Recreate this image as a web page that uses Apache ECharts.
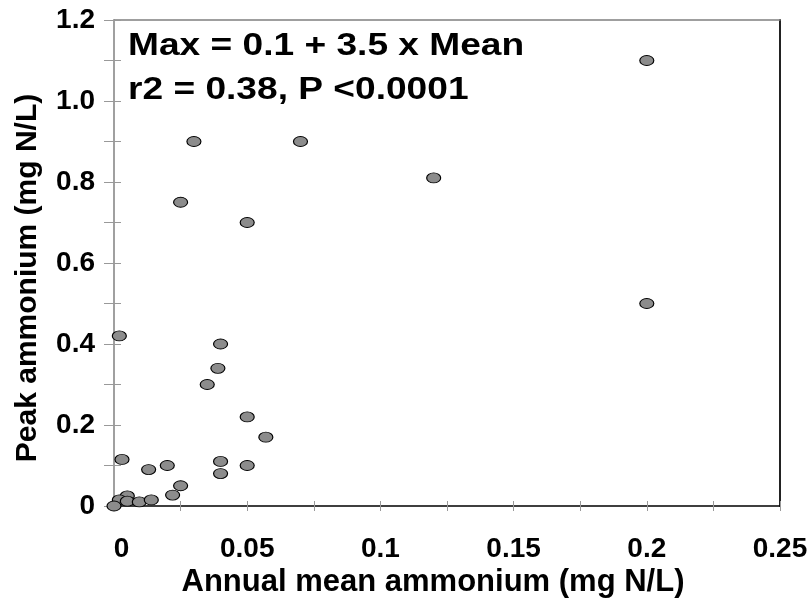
<!DOCTYPE html>
<html>
<head>
<meta charset="utf-8">
<script src="https://cdn.jsdelivr.net/npm/echarts@6/dist/echarts.min.js"></script>
<style>html,body{margin:0;padding:0;background:#fff}#c{width:812px;height:603px}</style>
</head>
<body>
<div id="c"></div>
<script>
// Data
var meanAmmonium = [0.2, 0.2, 0.12, 0.07, 0.03, 0.025, 0.05, 0.002, 0.04, 0.039, 0.035, 0.05, 0.057, 0.04, 0.04, 0.05, 0.02, 0.013, 0.003, 0.025, 0.022, 0.005, 0.002, 0.005, 0.0095, 0.014, 0.0];
var peakAmmonium = [1.1, 0.5, 0.81, 0.9, 0.9, 0.75, 0.7, 0.42, 0.40, 0.34, 0.30, 0.22, 0.17, 0.11, 0.08, 0.10, 0.10, 0.09, 0.115, 0.05, 0.027, 0.025, 0.015, 0.012, 0.01, 0.015, 0.0];
var xTickLabels = ['0', '0.05', '0.1', '0.15', '0.2', '0.25'];
var yTickLabels = ['0', '0.2', '0.4', '0.6', '0.8', '1.0', '1.2'];
var xTitle = 'Annual mean ammonium (mg N/L)';
var yTitle = 'Peak ammonium (mg N/L)';
var annotLines = ['Max = 0.1 + 3.5 x Mean', 'r2 = 0.38, P <0.0001'];

var points = meanAmmonium.map(function (x, i) { return [x, peakAmmonium[i]]; });
var FONT = 'Liberation Sans, Arial, sans-serif';

function xLabel(v) {
  var k = Math.round(v * 1000);
  if (Math.abs(v * 1000 - k) > 1e-6 || k % 50 !== 0) return '';
  var idx = k / 50;
  if (idx === 0) return '{z|' + xTickLabels[0] + '}';
  return xTickLabels[idx] || '';
}
function yLabel(v) {
  var k = Math.round(v * 10);
  if (k % 2 !== 0) return '';
  return yTickLabels[k / 2] || '';
}

var baseX = { type: 'value', min: 0, max: 0.25, interval: 0.025, splitLine: { show: false } };
var baseY = { type: 'value', min: 0, max: 1.2, interval: 0.1, splitLine: { show: false } };

var chart = echarts.init(document.getElementById('c'));
chart.setOption({
  animation: false,
  grid: { left: 114, top: 20, right: 32, bottom: 97, show: false },
  xAxis: [
    Object.assign({}, baseX, {
      position: 'bottom',
      axisLine: { show: true, onZero: false, lineStyle: { color: '#000', width: 1.5 } },
      axisTick: { show: true, inside: false, length: 5, lineStyle: { color: '#999' } },
      axisLabel: {
        show: true, formatter: xLabel, margin: 29, color: '#000',
        fontFamily: FONT, fontWeight: 'bold', fontSize: 28,
        rich: { z: { padding: [0, 0, 0, 15], fontFamily: FONT, fontWeight: 'bold', fontSize: 28, color: '#000' } }
      }
    }),
    Object.assign({}, baseX, {
      position: 'bottom',
      axisLine: { show: false, onZero: false },
      axisTick: { show: true, inside: true, length: 5, lineStyle: { color: '#999' } },
      axisLabel: { show: false }
    }),
    Object.assign({}, baseX, {
      position: 'top',
      axisLine: { show: true, onZero: false, lineStyle: { color: '#808080', width: 1.5 } },
      axisTick: { show: false },
      axisLabel: { show: false }
    })
  ],
  yAxis: [
    Object.assign({}, baseY, {
      position: 'left',
      axisLine: { show: true, onZero: false, lineStyle: { color: '#808080', width: 1.5 } },
      axisTick: { show: true, inside: false, length: 10, lineStyle: { color: '#999' } },
      axisLabel: {
        show: true, formatter: yLabel, margin: 19, color: '#000',
        fontFamily: FONT, fontWeight: 'bold', fontSize: 28, padding: [5, 0, 0, 0]
      }
    }),
    Object.assign({}, baseY, {
      position: 'left',
      axisLine: { show: false, onZero: false },
      axisTick: { show: true, inside: true, length: 7, lineStyle: { color: '#999' } },
      axisLabel: { show: false }
    }),
    Object.assign({}, baseY, {
      position: 'right',
      axisLine: { show: true, onZero: false, lineStyle: { color: '#222', width: 2 } },
      axisTick: { show: false },
      axisLabel: { show: false }
    })
  ],
  graphic: [
    {
      type: 'text', x: 128, y: 46, scaleX: 1.16, z: 100,
      style: { text: annotLines[0], font: 'bold 32px ' + FONT, fill: '#000', verticalAlign: 'middle' }
    },
    {
      type: 'text', x: 128, y: 90, scaleX: 1.16, z: 100,
      style: { text: annotLines[1], font: 'bold 32px ' + FONT, fill: '#000', verticalAlign: 'middle' }
    },
    {
      type: 'text', x: 433, y: 582, z: 100,
      style: { text: xTitle, font: 'bold 31px ' + FONT, fill: '#000', align: 'center', verticalAlign: 'middle' }
    },
    {
      type: 'text', x: 28, y: 278, rotation: Math.PI / 2, z: 100,
      style: { text: yTitle, font: 'bold 30px ' + FONT, fill: '#000', align: 'center', verticalAlign: 'middle' }
    }
  ],
  series: [{
    type: 'scatter',
    xAxisIndex: 0, yAxisIndex: 0,
    data: points,
    symbol: 'circle',
    symbolSize: [14, 10],
    clip: false,
    itemStyle: { color: '#8c8c8c', borderColor: '#000', borderWidth: 1, opacity: 1 }
  }]
});
</script>
</body>
</html>
